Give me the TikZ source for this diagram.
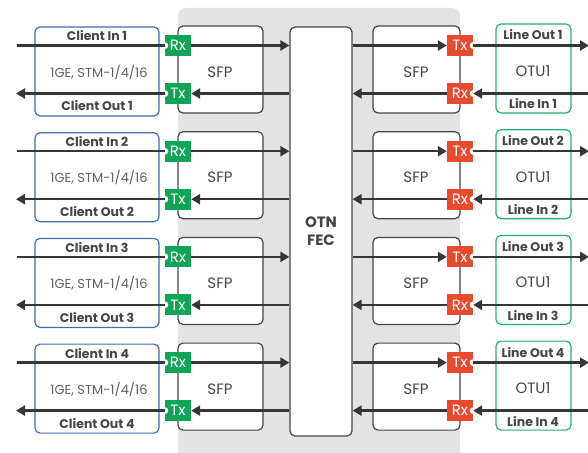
\documentclass[tikz,border=0pt]{standalone}
\usepackage{fontspec}
\setmainfont{Poppins}
\usetikzlibrary{arrows.meta}
\definecolor{bggray}{HTML}{E3E3E3}
\definecolor{boxline}{HTML}{454545}
\definecolor{wirecol}{HTML}{363636}
\definecolor{clientblue}{HTML}{4169B4}
\definecolor{linegreen}{HTML}{22B06A}
\definecolor{taggreen}{HTML}{10A456}
\definecolor{tagred}{HTML}{E84A2E}
\definecolor{txtgray}{HTML}{606060}

\begin{document}
\begin{tikzpicture}[x=1pt,y=-1pt,
  box/.style={draw=boxline,line width=1.2pt,rounded corners=5pt,fill=white,inner sep=0pt},
  clientbox/.style={box,draw=clientblue},
  linebox/.style={box,draw=linegreen},
  tag/.style={text=white,inner sep=0pt,minimum width=26pt,minimum height=21pt,
    font=\fontsize{15}{15}\selectfont},
  lbl/.style={text=boxline,font=\fontsize{12.5}{12.5}\selectfont\bfseries},
  big/.style={text=boxline,font=\fontsize{15}{15}\selectfont},
  wire/.style={draw=wirecol,line width=2.5pt,-{Triangle[length=9pt,width=10pt]}},
  plain/.style={draw=wirecol,line width=2.5pt}]
  \useasboundingbox (0,0) rectangle (588,452);
  % shared grey housing
  \fill[bggray,rounded corners=8pt] (178,480) rectangle (460,8);
  \node[box,minimum width=62pt,minimum height=409pt] (fec) at (321,231.5) {};
  \node[text=boxline,font=\fontsize{15}{18}\selectfont\bfseries,align=center] (fectxt) at (321,231.5) {OTN\\FEC};
  \foreach \i in {1,...,4} {
    \pgfmathsetmacro{\r}{105.7*(\i-1)}
    % client side
    \node[clientbox,minimum width=124pt,minimum height=89pt] (cli\i) at (97,{71.5+\r}) {};
    \node[lbl] (cin\i) at (97,{36+\r}) {Client In \i};
    \node[text=txtgray,font=\fontsize{13}{13}\selectfont] (rate\i) at (99,{72+\r}) {1GE, STM-1/4/16};
    \node[lbl] (cout\i) at (97,{106+\r}) {Client Out \i};
    \node[box,minimum width=85pt,minimum height=87pt] (sfpL\i) at (220.5,{69.5+\r}) {};
    \node[big] (sfpLt\i) at (220,{72+\r}) {SFP};
    \node[tag,fill=taggreen] (rx\i) at (178,{45.5+\r}) {Rx};
    \node[tag,fill=taggreen] (tx\i) at (178,{93.5+\r}) {Tx};
    \fill[white] (rx\i.west) circle (3.5pt) (tx\i.west) circle (3.5pt);
    % line side
    \node[box,minimum width=87pt,minimum height=87pt] (sfpR\i) at (416.5,{69.5+\r}) {};
    \node[big] (sfpRt\i) at (416,{72+\r}) {SFP};
    \node[linebox,minimum width=75pt,minimum height=89pt] (otu\i) at (533.5,{68.5+\r}) {};
    \node[lbl] (lout\i) at (533,{35+\r}) {Line Out \i};
    \node[big] (otut\i) at (533,{71+\r}) {OTU1};
    \node[lbl] (lin\i) at (533,{104+\r}) {Line In \i};
    \node[tag,fill=tagred] (txR\i) at (460,{45.5+\r}) {Tx};
    \node[tag,fill=tagred] (rxR\i) at (460,{93.5+\r}) {Rx};
    \fill[white] (txR\i.east) circle (3.5pt) (rxR\i.east) circle (3.5pt);
    % free ends
    \coordinate (inL\i) at (17,{45.5+\r});
    \coordinate (outL\i) at (16,{93.5+\r});
    \coordinate (outR\i) at (589,{45.5+\r});
    \coordinate (inR\i) at (589,{93.5+\r});
    % connectors
    \draw[plain] (inL\i) -- (rx\i.west);
    \draw[wire] (rx\i.east) -- (rx\i.east -| fec.west);
    \draw[wire] (tx\i.east -| fec.west) -- (tx\i.east);
    \draw[wire] (tx\i.west) -- (outL\i);
    \draw[wire] (txR\i.west -| fec.east) -- (txR\i.west);
    \draw[wire] (txR\i.east) -- (outR\i);
    \draw[wire] (inR\i) -- (rxR\i.east);
    \draw[wire] (rxR\i.west) -- (rxR\i.west -| fec.east);
  }
\end{tikzpicture}
\end{document}
